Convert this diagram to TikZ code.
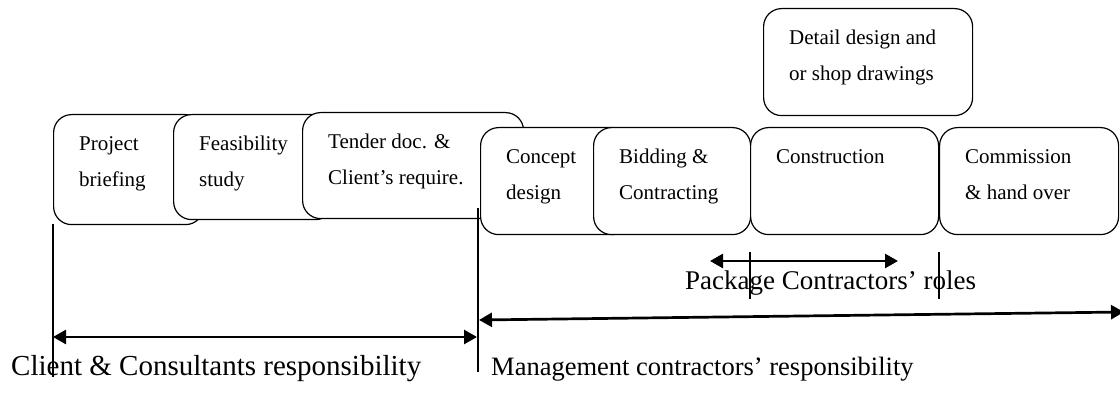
\documentclass[tikz,border=0pt]{standalone}
\usepackage{fontspec}
\setmainfont{Liberation Serif}
\usepackage{tikz}
\usetikzlibrary{positioning}
\usetikzlibrary{calc}
\usetikzlibrary{arrows.meta}

\begin{document}
\begin{tikzpicture}[
    x=1pt, y=-1pt,
    stage/.style={rectangle, draw, line width=1.2pt, rounded corners=18pt, fill=white, anchor=north west, inner sep=0pt},
    inside/.style={anchor=north west, align=left, inner xsep=26pt, inner ysep=22pt, font=\fontsize{21}{36}\selectfont},
    caption/.style={anchor=base west, inner sep=0pt},
    span/.style={<->, line width=2.7pt},
    tick/.style={line width=1.2pt},
    >={Triangle[length=13pt,width=14pt]}
]
    \useasboundingbox (0,0) rectangle (1120,403);

    \node[stage, minimum width=150pt, minimum height=110pt, label={[inside]north west:Project\\briefing}] (brief) at (53,114) {};
    \node[stage, minimum width=160pt, minimum height=105pt, label={[inside]north west:Feasibility\\study}] (feas) at (173,114) {};
    \node[stage, minimum width=221pt, minimum height=106pt, label={[inside]north west:Tender doc. \&\\Client’s require.}] (tender) at (302,112) {};
    \node[stage, minimum width=150pt, minimum height=107pt, label={[inside]north west:Concept\\design}] (concept) at (480,127) {};
    \node[stage, minimum width=157pt, minimum height=107pt, label={[inside]north west:Bidding \&\\Contracting}] (bid) at (593,127) {};
    \node[stage, minimum width=188pt, minimum height=107pt, label={[inside]north west:Construction}] (constr) at (750,127) {};
    \node[stage, minimum width=179pt, minimum height=107pt, label={[inside]north west:Commission\\\& hand over}] (comm) at (939,127) {};
    \node[stage, minimum width=209pt, minimum height=107pt, label={[inside]north west:Detail design and\\or shop drawings}] (detail) at (763,8) {};

    \coordinate (clientTop) at (53,224);
    \coordinate (clientBot) at (53,377);
    \coordinate (mgmtTop) at (478,208);
    \coordinate (mgmtBot) at (478,372);
    \coordinate (pkgL) at (750,252);
    \coordinate (pkgLb) at (750,299);
    \coordinate (pkgR) at (939,252);
    \coordinate (pkgRb) at (939,299);

    \draw[tick] (clientTop) -- (clientBot);
    \draw[tick] (mgmtTop) -- (mgmtBot);
    \draw[tick] (pkgL) -- (pkgLb);
    \draw[tick] (pkgR) -- (pkgRb);

    \coordinate (clientA) at (53,337);
    \coordinate (clientB) at (477,337);
    \coordinate (mgmtA) at (479,320);
    \coordinate (mgmtB) at (1124,312);
    \coordinate (pkgA) at (710,261);
    \coordinate (pkgB) at (898,261);

    \draw[span] (clientA) -- (clientB);
    \draw[span] (mgmtA) -- (mgmtB);
    \draw[span] (pkgA) -- (pkgB);

    \node[caption, font=\fontsize{27}{30}\selectfont] (pkgtxt) at (685,290) {Package Contractors’ roles};
    \node[caption, font=\fontsize{29}{32}\selectfont] (clienttxt) at (11,376) {Client \& Consultants responsibility};
    \node[caption, font=\fontsize{26.5}{30}\selectfont] (mgmttxt) at (491,376) {Management contractors’ responsibility};
\end{tikzpicture}
\end{document}
